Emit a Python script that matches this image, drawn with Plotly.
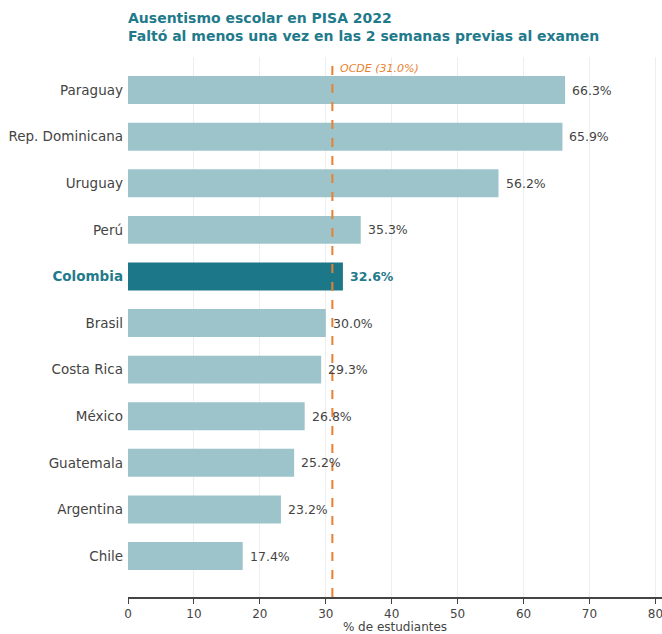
import plotly.graph_objects as go

countries = ["Paraguay", "Rep. Dominicana", "Uruguay", "Perú", "Colombia", "Brasil",
             "Costa Rica", "México", "Guatemala", "Argentina", "Chile"]
values = [66.3, 65.9, 56.2, 35.3, 32.6, 30.0, 29.3, 26.8, 25.2, 23.2, 17.4]
highlight = "Colombia"
ocde_value = 31.0
x_ticks = [0, 10, 20, 30, 40, 50, 60, 70, 80]

LIGHT = "#9dc4cb"
DARK = "#1c7889"
TEAL = "#1f7a8c"
ORANGE = "#e8812f"
GRAY = "#444444"

ypos = list(range(len(countries)))
colors = [DARK if c == highlight else LIGHT for c in countries]

fig = go.Figure()
fig.add_trace(go.Bar(
    x=values, y=ypos, orientation="h", width=0.6,
    marker=dict(color=colors, line=dict(width=0)),
    hoverinfo="skip", showlegend=False,
))

for c, v, y in zip(countries, values, ypos):
    hl = c == highlight
    fig.add_annotation(
        x=v, y=y, xref="x", yref="y", xanchor="left", yanchor="middle",
        text=f"<b>{v:.1f}%</b>" if hl else f"{v:.1f}%",
        showarrow=False, xshift=5,
        font=dict(size=12.5, color=TEAL if hl else GRAY),
    )

fig.add_shape(type="line", x0=ocde_value, x1=ocde_value, xref="x", yref="paper",
              y0=0, y1=1, line=dict(color=ORANGE, width=2, dash="dash"))
fig.add_annotation(x=ocde_value, y=1, xref="x", yref="paper", xanchor="left", yanchor="top",
                   text=f"<i>OCDE ({ocde_value:.1f}%)</i>", showarrow=False, xshift=6, yshift=-3,
                   font=dict(size=11, color=ORANGE))

fig.add_annotation(
    x=0, y=1, xref="paper", yref="paper", xanchor="left", yanchor="bottom",
    align="left", showarrow=False, yshift=11, xshift=-2,
    text="<b>Ausentismo escolar en PISA 2022<br>Faltó al menos una vez en las 2 semanas previas al examen</b>",
    font=dict(size=14, color=TEAL, family="DejaVu Sans"),
)

ticktext = [f"<b><span style='color:{TEAL}'>{c}</span></b>" if c == highlight else c
            for c in countries]

fig.update_layout(
    width=662, height=634,
    margin=dict(l=128, r=0, t=57, b=37),
    plot_bgcolor="white", paper_bgcolor="white",
    font=dict(family="DejaVu Sans", color=GRAY),
    xaxis=dict(
        range=[0, 81], tickvals=x_ticks, showgrid=True, gridcolor="#eeeeee", gridwidth=1,
        zeroline=False, showline=True, linecolor=GRAY, linewidth=1.5,
        ticks="outside", ticklen=5, tickcolor=GRAY, tickfont=dict(size=12, color=GRAY),
        ticklabeloverflow="allow",
        title=dict(text="% de estudiantes", font=dict(size=12, color=GRAY), standoff=4),
    ),
    yaxis=dict(
        range=[10.88, -0.71], tickvals=ypos, ticktext=ticktext,
        showgrid=False, zeroline=False, showline=False, ticks="",
        tickfont=dict(size=13.5, color=GRAY), ticklabelstandoff=4,
    ),
)

fig.write_html(
    "out.html",
    config={"displayModeBar": False},
    post_script="document.body.style.margin='0';document.body.style.overflow='hidden';",
)
